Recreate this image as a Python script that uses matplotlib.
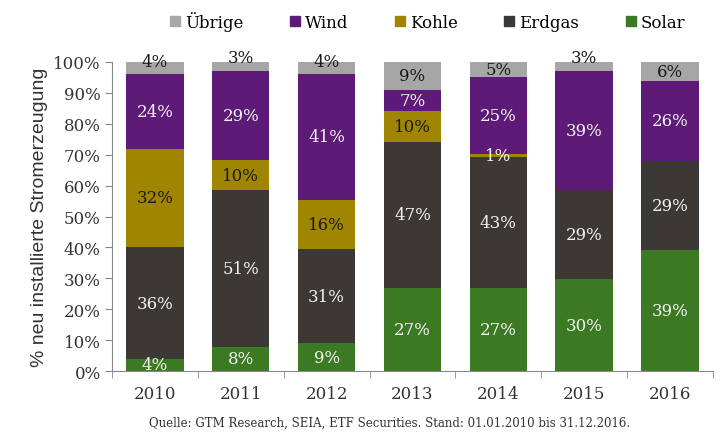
import matplotlib.pyplot as plt
from matplotlib.lines import Line2D
import numpy as np

years = ['2010', '2011', '2012', '2013', '2014', '2015', '2016']
series = ['Übrige', 'Wind', 'Kohle', 'Erdgas', 'Solar']

# label values (%) per year
solar = [4, 8, 9, 27, 27, 30, 39]
erdgas = [36, 51, 31, 47, 43, 29, 29]
kohle = [32, 10, 16, 10, 1, 0, 0]
wind = [24, 29, 41, 7, 25, 39, 26]
uebrige = [4, 3, 4, 9, 5, 3, 6]

colors = {
    'Solar': '#3b7a23',
    'Erdgas': '#3c3835',
    'Kohle': '#a08500',
    'Wind': '#5e1a77',
    'Übrige': '#a5a6a5',
}
text_colors = {
    'Solar': '#f2f2f2',
    'Erdgas': '#f2f2f2',
    'Kohle': '#1a1a1a',
    'Wind': '#f2f2f2',
    'Übrige': '#1a1a1a',
}

plt.rcParams['font.family'] = ['DejaVu Serif']

fig = plt.figure(figsize=(7.22, 4.39), dpi=100)
ax = fig.add_axes([0.155, 0.1526, 0.8325, 0.7039])

stack = [('Solar', solar), ('Erdgas', erdgas), ('Kohle', kohle),
         ('Wind', wind), ('Übrige', uebrige)]
totals = np.sum([v for _, v in stack], axis=0)
x = np.arange(len(years))
bottom = np.zeros(len(years))
for name, vals in stack:
    h = np.array(vals) / totals * 100
    ax.bar(x, h, 0.67, bottom=bottom, color=colors[name], zorder=2)
    for i, (hv, lv) in enumerate(zip(h, vals)):
        if lv == 0:
            continue
        yc = bottom[i] + hv / 2
        col = text_colors[name]
        if name == 'Kohle' and lv < 3:
            col = '#f2f2f2'
        if name == 'Übrige' and lv <= 4:
            yc = 100 + (4 - lv) * 1.5
        ax.text(x[i], yc, f'{lv}%', ha='center', va='center',
                fontsize=12, color=col, zorder=3)
    bottom += h

ax.set_xlim(-0.5, 6.5)
ax.set_ylim(0, 100)
ax.set_yticks(range(0, 101, 10))
ax.set_yticklabels([f'{v}%' for v in range(0, 101, 10)], fontsize=12, color='#333333')
ax.set_xticks(x)
ax.set_xticklabels(years, fontsize=12, color='#333333')
ax.set_xticks(np.arange(-0.5, 7, 1), minor=True)
ax.tick_params(axis='x', which='major', length=0, pad=10)
ax.tick_params(axis='x', which='minor', length=5, direction='out', color='#888888')
ax.tick_params(axis='y', length=5, direction='out', color='#888888', pad=3)

for s in ['top', 'right']:
    ax.spines[s].set_visible(False)
for s in ['left', 'bottom']:
    ax.spines[s].set_color('#888888')

ax.set_ylabel('% neu installierte Stromerzeugung', fontsize=14,
              family=['Liberation Sans'], color='#333333', labelpad=4)

handles = [Line2D([], [], marker='s', linestyle='none', markersize=7,
                  color=colors[n]) for n in series]
fig.legend(handles, series, loc='center', bbox_to_anchor=(0.59, 0.95),
           ncol=5, frameon=False, fontsize=12, handletextpad=0.1,
           columnspacing=2.6, handlelength=1.0)

fig.text(0.54, 0.035, 'Quelle: GTM Research, SEIA, ETF Securities. Stand: 01.01.2010 bis 31.12.2016.',
         ha='center', va='center', fontsize=8.5, color='#333333')

fig.savefig('out.png', dpi=100)
